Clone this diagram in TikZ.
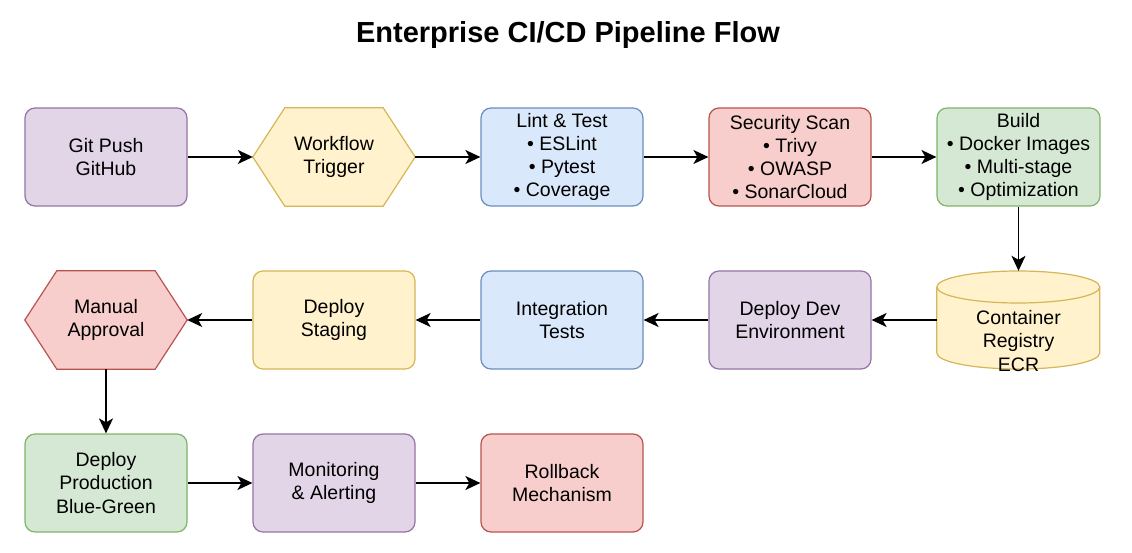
\documentclass[tikz,border=0pt]{standalone}
\usepackage{fontspec}
\setmainfont{Liberation Sans}
\usetikzlibrary{arrows.meta}
\definecolor{purF}{HTML}{E1D5E7}\definecolor{purD}{HTML}{9673A6}
\definecolor{yelF}{HTML}{FFF2CC}\definecolor{yelD}{HTML}{D6B656}
\definecolor{bluF}{HTML}{DAE8FC}\definecolor{bluD}{HTML}{6C8EBF}
\definecolor{redF}{HTML}{F8CECC}\definecolor{redD}{HTML}{B85450}
\definecolor{grnF}{HTML}{D5E8D4}\definecolor{grnD}{HTML}{82B366}
\tikzset{
  x=1pt,y=-1pt,
  box/.style={rectangle,rounded corners=10pt,line width=1.2pt,minimum width=162pt,minimum height=98pt,inner sep=0pt,align=center,font=\fontsize{19.5}{23.3}\selectfont},
  frame/.style={rectangle,minimum width=162pt,minimum height=98pt,inner sep=0pt,align=center,font=\fontsize{19.5}{23.3}\selectfont},
  pur/.style={fill=purF,draw=purD},
  yel/.style={fill=yelF,draw=yelD},
  blu/.style={fill=bluF,draw=bluD},
  red/.style={fill=redF,draw=redD},
  grn/.style={fill=grnF,draw=grnD},
  conn/.style={line width=1.5pt,-{Stealth[length=15pt,width=14pt,inset=4pt]}},
}
\begin{document}
\begin{tikzpicture}
\useasboundingbox (0,0) rectangle (1132,553);
\fill[white] (0,0) rectangle (1132,553);
\node[font=\fontsize{29}{34}\selectfont\bfseries] (title) at (568,35) {Enterprise CI/CD Pipeline Flow};
% row 1
\node[box,pur] (git) at (106,157) {Git Push\\GitHub};
\node[frame] (wf) at (334,157) {};
\fill[yelF,draw=yelD,line width=1.2pt] (wf.west) -- ([xshift=32pt]wf.north west) -- ([xshift=-32pt]wf.north east) -- (wf.east) -- ([xshift=-32pt]wf.south east) -- ([xshift=32pt]wf.south west) -- cycle;
\node[frame] at (wf) {Workflow\\Trigger};
\node[box,blu] (lint) at (562,157) {Lint \& Test\\• ESLint\\• Pytest\\• Coverage};
\node[box,red] (sec) at (790,157) {Security Scan\\• Trivy\\• OWASP\\• SonarCloud};
\node[box,grn,minimum width=163pt] (build) at (1018.5,157) {Build\\• Docker Images\\• Multi-stage\\• Optimization};
% row 2
\node[frame,minimum width=163pt] (reg) at (1018.5,320) {};
\fill[yelF,draw=yelD,line width=1.2pt] (reg.west) ++(0,-33) coordinate (cl) -- ++(0,66) arc[start angle=180,end angle=360,x radius=81.5pt,y radius=16pt] -- ++(0,-66) arc[start angle=0,end angle=180,x radius=81.5pt,y radius=16pt] -- cycle;
\draw[yelD,line width=1.2pt] (cl) arc[start angle=180,end angle=360,x radius=81.5pt,y radius=16pt];
\node[frame,minimum height=10pt] at (1018.5,341) {Container\\Registry\\ECR};
\node[box,pur] (dev) at (790,320) {Deploy Dev\\Environment};
\node[box,blu] (integ) at (562,320) {Integration\\Tests};
\node[box,yel] (stag) at (334,320) {Deploy\\Staging};
\node[frame] (appr) at (106,320) {};
\fill[redF,draw=redD,line width=1.2pt] (appr.west) -- ([xshift=32pt]appr.north west) -- ([xshift=-32pt]appr.north east) -- (appr.east) -- ([xshift=-32pt]appr.south east) -- ([xshift=32pt]appr.south west) -- cycle;
\node[frame] at (appr) {Manual\\Approval};
% row 3
\node[box,grn] (prod) at (106,483) {Deploy\\Production\\Blue-Green};
\node[box,pur] (mon) at (334,483) {Monitoring\\\& Alerting};
\node[box,red] (roll) at (562,483) {Rollback\\Mechanism};
% connectors
\draw[conn] (git) -- (wf);
\draw[conn] (wf) -- (lint);
\draw[conn] (lint) -- (sec);
\draw[conn] (sec) -- (build);
\draw[conn] (build) -- (reg);
\draw[conn] (reg) -- (dev);
\draw[conn] (dev) -- (integ);
\draw[conn] (integ) -- (stag);
\draw[conn] (stag) -- (appr);
\draw[conn] (appr) -- (prod);
\draw[conn] (prod) -- (mon);
\draw[conn] (mon) -- (roll);
\end{tikzpicture}
\end{document}
